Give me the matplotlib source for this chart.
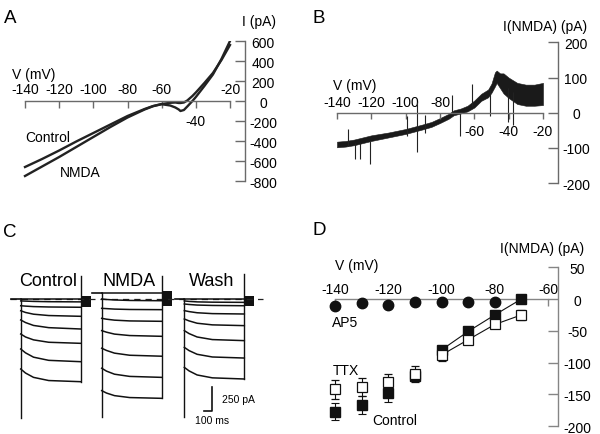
import numpy as np
import matplotlib
matplotlib.use('Agg')
import matplotlib.pyplot as plt

plt.rcParams['font.family'] = ['Liberation Sans', 'DejaVu Sans']
plt.rcParams['axes.unicode_minus'] = False

# ---------------- data ----------------
# Panel A: whole-cell I-V ramps
a_v = [-140, -130, -120, -110, -100, -90, -80, -70, -65, -60, -55, -52, -50, -49, -47, -45, -42, -40, -35, -30, -25, -20]
a_control = [-660, -580, -495, -405, -320, -235, -150, -80, -50, -30, -18, -15, -20, -20, -15, 5, 50, 85, 180, 280, 410, 560]
a_nmda = [-750, -655, -560, -460, -360, -260, -165, -85, -52, -32, -45, -65, -85, -100, -90, -55, 0, 40, 150, 265, 420, 600]
a_xticks = [-140, -120, -100, -80, -60, -40, -20]
a_xbelow = [-40]
a_yticks = [600, 400, 200, 0, -200, -400, -600, -800]

# Panel B: NMDA difference current (noisy trace envelope)
b_v = [-140, -135, -130, -125, -120, -110, -100, -90, -85, -80, -75, -72, -68, -64, -60, -56, -52, -50, -48, -47, -45, -43, -40, -35, -30, -25, -20]
b_lo = [-98, -96, -92, -86, -80, -70, -60, -47, -40, -29, -17, -7, -2, 4, 15, 34, 44, 57, 75, 85, 70, 55, 42, 25, 20, 20, 22]
b_hi = [-82, -80, -76, -70, -64, -56, -46, -33, -26, -15, -3, 7, 12, 20, 35, 54, 66, 83, 115, 120, 112, 112, 100, 85, 80, 80, 85]
b_spike_v = [-133.4, -129.5, -126.6, -120.8, -99.4, -93.6, -89.0, -73.2, -68.3, -61.5, -50.9, -40.2, -37.6]
b_spike_a = [-45, -85, -85, -80, -8, 30, -5, 0, 0, 20, 68, 70, 60]
b_spike_b = [-95, -130, -130, -145, -65, -112, -57, 50, -65, 82, -8, -27, -36]
b_xticks = [-140, -120, -100, -80, -60, -40, -20]
b_xbelow = [-60, -40, -20]
b_yticks = [200, 100, 0, -100, -200]

# Panel C: current traces (pA) sampled at step times (ms)
c_t = [0, 60, 160, 350, 750]
c_control = [[0, 0, 0, 0, 0], [-20, -22, -25, -28, -30], [-70, -74, -79, -83, -86],
             [-122, -140, -158, -172, -180], [-218, -245, -275, -298, -312],
             [-364, -395, -425, -450, -461], [-520, -560, -605, -638, -652],
             [-728, -770, -815, -848, -860]]
c_nmda = [[59, 59, 59, 59, 59], [0, -5, -10, -15, -18], [-97, -100, -105, -109, -111],
          [-201, -210, -220, -228, -232], [-329, -345, -365, -380, -388],
          [-512, -535, -563, -585, -595], [-720, -750, -782, -805, -815],
          [-953, -978, -1005, -1025, -1033]]
c_wash = [[0, 0, 0, 0, 0], [-20, -25, -30, -33, -35], [-52, -57, -63, -67, -70],
          [-121, -131, -143, -152, -156], [-208, -228, -252, -269, -277],
          [-329, -360, -395, -422, -433], [-503, -537, -575, -603, -614],
          [-711, -748, -790, -820, -832]]
c_names = ['Control', 'NMDA', 'Wash']
c_hold = [0, 59, 0]
c_transient = [-1238, -1227, -1227]
c_offspike = [240, 240, 260]
c_tail_hi = [30, 86, 34]
c_tail_lo = [-80, -70, -70]
c_scale_pa = 250
c_scale_ms = 100

# Panel D: mean I(NMDA) vs V
d_v = [-140, -130, -120, -110, -100, -90, -80, -70]
d_control = [-177, -166, -147, -121, -80, -51, -25, 0]
d_control_err = [14, 14, 15, 8, 6, 5, 6, 5]
d_ttx = [-142, -138, -131, -118, -88, -64, -40, -25]
d_ttx_err = [15, 14, 13, 13, 10, 5, 5, 8]
d_ap5_v = [-140, -130, -120, -110, -100, -90, -80]
d_ap5 = [-11, -6, -10, -5, -5, -5, -5]
d_ap5_err = [2, 2, 2, 2, 6, 2, 2]
d_xticks = [-140, -120, -100, -80, -60]
d_yticks = [50, 0, -50, -100, -150, -200]

# ---------------- layout helpers ----------------
W, H = 600, 435
fig = plt.figure(figsize=(6, 4.35), dpi=100)


def px_axes(l, t, r, b):
    return fig.add_axes([l / W, 1 - b / H, (r - l) / W, (b - t) / H])


def ftext(x, y, s, size=10, **kw):
    fig.text(x / W, 1 - y / H, s, fontsize=size, va='baseline', **kw)


def iv_axes(ax, xticks, xbelow, yticks, xb, yb, color, xlen, ylen, ypad, toppad, belowpad, fs):
    ax.spines['left'].set_visible(False)
    ax.spines['bottom'].set_position(('data', 0))
    ax.spines['bottom'].set_visible(False)
    ax.spines['top'].set_position(('data', 0))
    ax.spines['top'].set_bounds(*xb)
    ax.spines['right'].set_bounds(*yb)
    for s in ['top', 'right']:
        ax.spines[s].set_color(color)
        ax.spines[s].set_linewidth(1.0)
    ax.set_xticks(xticks)
    ax.set_xticklabels([str(v) for v in xticks])
    ax.set_yticks(yticks)
    ax.set_yticklabels([str(v) for v in yticks])
    ax.tick_params(axis='x', direction='in', length=xlen, width=1.0, color=color,
                   top=True, bottom=False, labeltop=True, labelbottom=True,
                   pad=toppad, labelsize=fs)
    ax.tick_params(axis='y', direction='in', length=ylen, width=1.0, color=color,
                   right=True, left=False, labelright=True, labelleft=False,
                   pad=ypad, labelsize=fs)
    for tk, v in zip(ax.xaxis.get_major_ticks(), xticks):
        if v in xbelow:
            tk.label2.set_visible(False)
            tk.set_pad(belowpad)
        else:
            tk.label1.set_visible(False)
    for tk in ax.yaxis.get_major_ticks():
        tk.label2.set_horizontalalignment('center')


axis_gray = '#6a6a6a'

# ---------------- Panel A ----------------
axA = px_axes(20, 42, 245, 182)
axA.set_xlim(-142.93, -11.22)
axA.set_ylim(-800, 600)
axA.patch.set_visible(False)
axA.plot(a_v, a_control, color='#222222', lw=1.7)
axA.plot(a_v, a_nmda, color='#222222', lw=1.7)
iv_axes(axA, a_xticks, a_xbelow, a_yticks, (-140, -20), (-800, 600), axis_gray,
        5, 7, 13, 3.5, 9, 10)
ftext(4, 22.7, 'A', 13.5)
ftext(12, 79, 'V (mV)')
ftext(242, 26, 'I (pA)')
ftext(25, 142, 'Control')
ftext(60, 177, 'NMDA')

# ---------------- Panel B ----------------
axB = px_axes(330, 43.4, 558, 184.2)
axB.set_xlim(-144.08, -11.26)
axB.set_ylim(-200, 200)
axB.patch.set_visible(False)
axB.fill_between(b_v, b_lo, b_hi, color='#1a1a1a', lw=0.4, edgecolor='#1a1a1a')
axB.vlines(b_spike_v, b_spike_a, b_spike_b, color='#222222', lw=0.8)
iv_axes(axB, b_xticks, b_xbelow, b_yticks, (-140, -20), (-200, 200), axis_gray,
        4.5, 7, 13, 3, 8, 10)
ftext(313, 23, 'B', 13.5)
ftext(333, 90, 'V (mV)')
ftext(503, 31, 'I(NMDA) (pA)')

# ---------------- Panel C ----------------
axC = px_axes(0, 250, 300, 435)
axC.set_xlim(-259, 3491)
axC.set_ylim(-1404, 520)
axC.axis('off')
c_offsets = [0, 1012, 2045]
c_step = c_t[-1]
c_tail_ms = 125
axC.plot([-134, 3029], [0, 0], color='#222222', lw=0.9, dashes=(5, 4))
for name, traces, off, hold, tr_min, spk, thi, tlo in zip(
        c_names, [c_control, c_nmda, c_wash], c_offsets, c_hold, c_transient,
        c_offspike, c_tail_hi, c_tail_lo):
    t = off + np.array(c_t)
    axC.plot([off - 120, off], [hold, hold], color='#111111', lw=1.2)
    axC.plot([off, off], [hold, tr_min], color='#111111', lw=1.0)
    for tr in traces:
        axC.plot(t, tr, color='#111111', lw=1.1)
    ends = [tr[-1] for tr in traces]
    axC.plot([off + c_step, off + c_step], [min(ends), spk], color='#111111', lw=1.0)
    axC.fill_between([off + c_step + 10, off + c_step + c_tail_ms], tlo, thi,
                     color='#111111', lw=0)
    axC.text(off + 340, 150, name, fontsize=13, ha='center', va='baseline')
sb_t, sb_i = 2391, -1165
axC.plot([sb_t - c_scale_ms, sb_t, sb_t], [sb_i, sb_i, sb_i + c_scale_pa],
         color='#111111', lw=1.2)
axC.text(sb_t + 120, sb_i + c_scale_pa / 2, f'{c_scale_pa} pA', fontsize=7.5,
         ha='left', va='center')
axC.text(sb_t, sb_i - 45, f'{c_scale_ms} ms', fontsize=7.5, ha='center', va='top')
ftext(3, 236.7, 'C', 13.5)

# ---------------- Panel D ----------------
axD = px_axes(320, 260.6, 558, 430.4)
axD.set_xlim(-145.63, -56.25)
axD.set_ylim(-205, 62)
axD.patch.set_visible(False)
d_gray = '#858585'
iv_axes(axD, d_xticks, [], d_yticks, (-140, -60), (-200, 50), d_gray,
        5, 7, 14, 2, 2, 10)
dv = np.array(d_v)
conn = dv >= -100
axD.plot(dv[conn], np.array(d_control)[conn], color='#111111', lw=0.8, zorder=3)
axD.plot(dv[conn], np.array(d_ttx)[conn], color='#111111', lw=0.8, zorder=3)
axD.errorbar(d_v, d_control, yerr=d_control_err, fmt='s', ms=6.5, mfc='#111111',
             mec='#111111', ecolor='#111111', elinewidth=0.8, capsize=3,
             capthick=0.8, zorder=4, clip_on=False)
axD.errorbar(d_v, d_ttx, yerr=d_ttx_err, fmt='s', ms=6.5, mfc='white',
             mec='#111111', mew=0.9, ecolor='#111111', elinewidth=0.8, capsize=3,
             capthick=0.8, zorder=5, clip_on=False)
axD.errorbar(d_ap5_v, d_ap5, yerr=d_ap5_err, fmt='o', ms=7.5, mfc='#111111',
             mec='#111111', ecolor='#111111', elinewidth=0.8, capsize=0,
             zorder=5, clip_on=False)
ftext(313, 235, 'D', 13.5)
ftext(335, 270, 'V (mV)')
ftext(500, 253, 'I(NMDA) (pA)')
ftext(332, 327, 'AP5')
ftext(333, 375, 'TTX')
ftext(372, 425, 'Control')

fig.savefig('out.png', dpi=100)
